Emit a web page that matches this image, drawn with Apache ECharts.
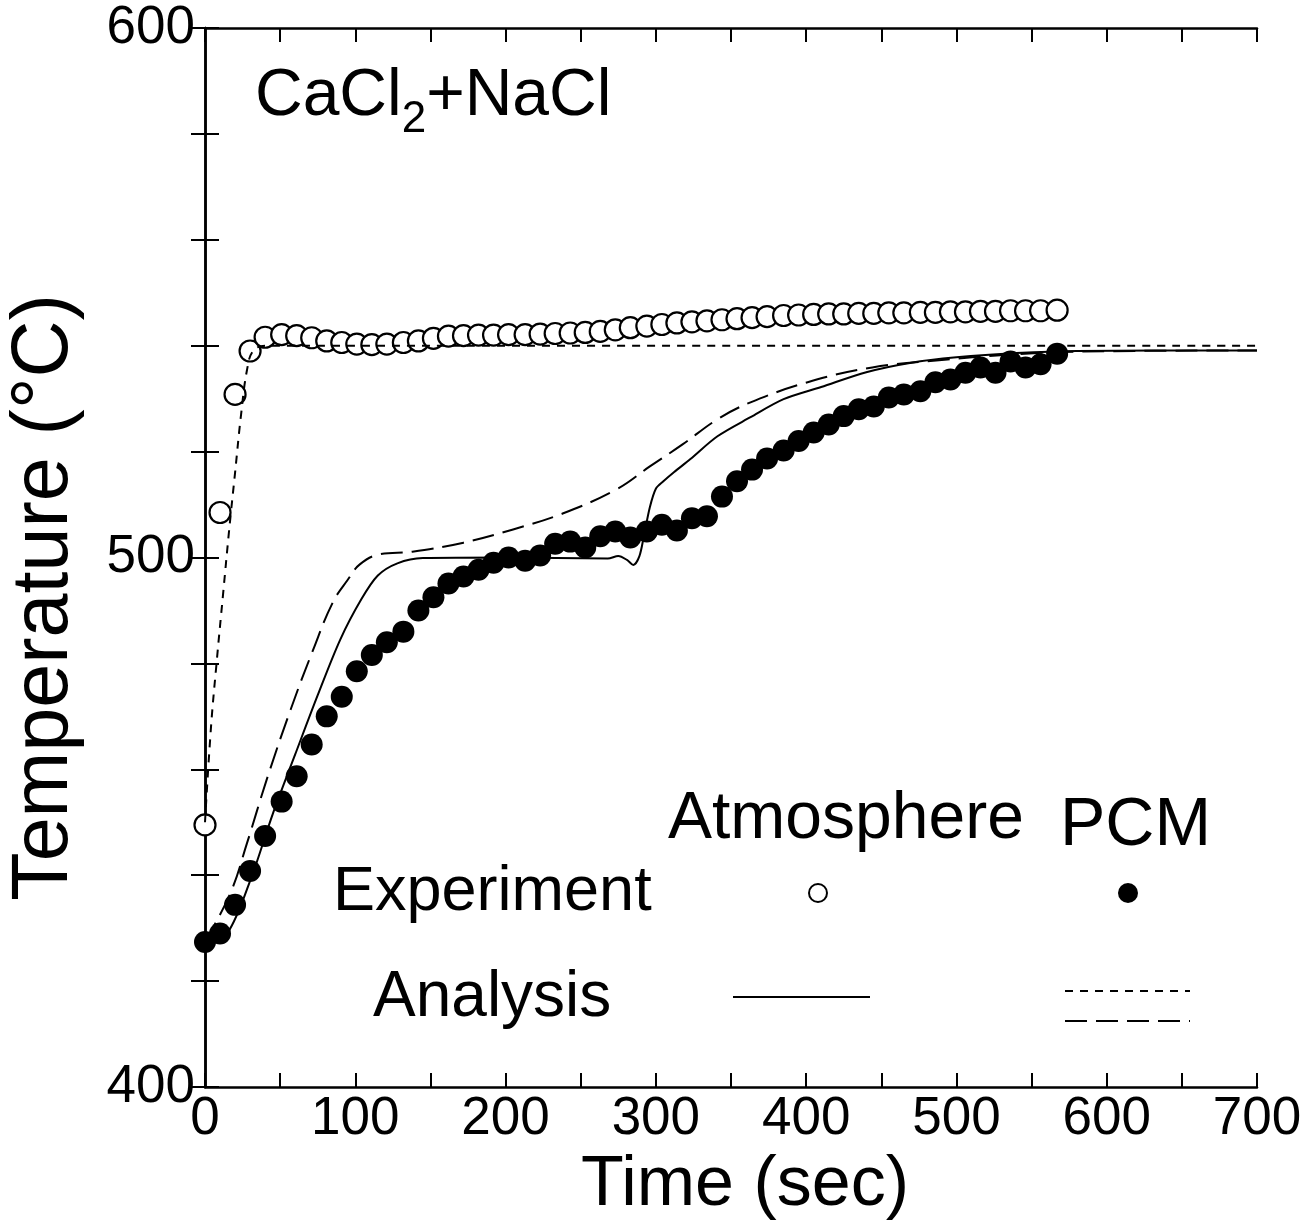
<!DOCTYPE html>
<html>
<head>
<meta charset="utf-8">
<script src="https://cdn.jsdelivr.net/npm/echarts@6/dist/echarts.min.js"></script>
<style>
html,body{margin:0;padding:0;background:#fff;}
#chart{width:1313px;height:1232px;}
</style>
</head>
<body>
<div id="chart"></div>
<script>
// ---- data ----
const expTime = [0,10,20,30,40,51,61,71,81,91,101,111,121,132,142,152,162,172,182,192,202,213,223,233,243,253,263,273,283,294,304,314,324,334,344,354,364,374,385,395,405,415,425,435,445,455,465,476,486,496,506,516,526,536,546,556,567];
const atmExp = [449.5,508.5,530.8,539.0,541.6,542.1,541.9,541.5,540.9,540.6,540.3,540.2,540.3,540.6,540.9,541.4,541.8,541.9,542.0,542.0,542.1,542.1,542.2,542.3,542.4,542.5,542.7,543.0,543.4,543.7,544.0,544.3,544.5,544.7,544.9,545.1,545.3,545.5,545.7,545.8,545.9,546.0,546.0,546.1,546.1,546.2,546.2,546.3,546.3,546.4,546.4,546.5,546.5,546.6,546.6,546.6,546.7];
const pcmExp = [427.4,429.0,434.4,440.8,447.4,453.9,458.7,464.7,470.0,473.7,478.5,481.6,484.0,486.0,490.0,492.5,495.1,496.4,497.7,499.0,500.0,499.4,500.4,502.6,503.0,501.9,504.0,504.9,503.8,504.9,506.2,505.1,507.4,507.8,511.5,514.4,516.6,518.7,520.2,522.0,523.6,525.1,526.7,528.0,528.5,530.2,530.8,531.4,533.1,533.6,534.9,535.9,534.9,537.0,535.9,536.5,538.5];

const atmAnaTime = [0,4,8,12,16,20,24,28,32,40,700];
const atmAna     = [450,468,481,493,505,516,527,535.5,539,540,540];

const pcmSolidTime = [0,15,31,45,60,75,90,104,115,128,145,200,268,275,281,285,289,292,296,300,305,312,323,341,363,385,410,440,470,500,540,580,700];
const pcmSolid     = [427,429.1,439.7,451.5,462.8,474,484.5,492.1,496.6,498.9,499.9,500,499.8,500.3,499.5,498.6,500.2,504,509.5,513,514.4,516.1,518.6,522.9,526.5,529.9,532.2,535,536.8,537.8,538.6,539,539.1];

const pcmDashTime = [0,17,28,41,57,72,85,95,103,116,138,172,205,238,274,296,318,341,363,401,444,494,540,584,700];
const pcmDash     = [427.4,436.7,446.1,458,471.3,482.6,491.5,495.8,498.7,500.6,501.1,502.8,505.3,508.3,512.9,517.2,521.4,526.1,529.3,533.1,535.9,537.4,538.4,538.9,539.1];

const xTicks = [0,100,200,300,400,500,600,700];
const yTicks = [400,500,600];

// ---- build chart ----
const FONT = '"Liberation Sans", Arial, Helvetica, sans-serif';
const pair = (t, v) => t.map((x, i) => [x, v[i]]);

const chart = echarts.init(document.getElementById('chart'), null, {renderer: 'canvas'});

const axisLineStyle = {color: '#000', width: 2.5};
const tickStyle = {show: true, inside: true, length: 14, lineStyle: {color: '#000', width: 2}};

chart.setOption({
  backgroundColor: '#fff',
  animation: false,
  grid: {left: 205, right: 56, top: 28, bottom: 145, containLabel: false, outerBoundsMode: 'none'},
  xAxis: [{
    type: 'value', position: 'bottom', min: 0, max: 700, interval: 50,
    axisLine: {show: true, lineStyle: axisLineStyle},
    axisTick: tickStyle,
    splitLine: {show: false},
    axisLabel: {
      color: '#000', fontFamily: FONT, fontSize: 53, margin: 6,
      formatter: v => xTicks.includes(v) ? String(v) : ''
    },
    name: 'Time (sec)', nameLocation: 'middle', nameGap: 62,
    nameTextStyle: {color: '#000', fontFamily: FONT, fontSize: 70, padding: [0, 0, 0, 28]}
  }, {
    type: 'value', position: 'top', min: 0, max: 700, interval: 50,
    axisLine: {show: true, lineStyle: axisLineStyle},
    axisTick: tickStyle, axisLabel: {show: false}, splitLine: {show: false}
  }],
  yAxis: [{
    type: 'value', position: 'left', min: 400, max: 600, interval: 20,
    axisLine: {show: true, lineStyle: axisLineStyle},
    axisTick: tickStyle,
    splitLine: {show: false},
    axisLabel: {
      color: '#000', fontFamily: FONT, fontSize: 53, margin: 10,
      formatter: v => yTicks.includes(v) ? String(v) : ''
    },
    name: 'Temperature (°C)', nameLocation: 'middle', nameGap: 120, nameRotate: 90,
    nameTextStyle: {color: '#000', fontFamily: FONT, fontSize: 79, padding: [0, 80, 0, 0]}
  }, {
    type: 'value', position: 'right', min: 400, max: 600, interval: 20,
    axisLine: {show: true, lineStyle: axisLineStyle},
    axisTick: tickStyle, axisLabel: {show: false}, splitLine: {show: false}
  }],
  series: [
    {
      name: 'Atmosphere experiment', type: 'scatter', data: pair(expTime, atmExp),
      symbol: 'circle', symbolSize: 21, z: 2,
      itemStyle: {color: '#fff', borderColor: '#000', borderWidth: 2.2, opacity: 1}
    },
    {
      name: 'PCM experiment', type: 'scatter', data: pair(expTime, pcmExp),
      symbol: 'circle', symbolSize: 22, z: 2,
      itemStyle: {color: '#000', opacity: 1}
    },
    {
      name: 'Atmosphere analysis', type: 'line', data: pair(atmAnaTime, atmAna),
      showSymbol: false, smooth: 0.4, z: 3,
      lineStyle: {color: '#000', width: 2, type: [8, 7]}
    },
    {
      name: 'PCM analysis (solid)', type: 'line', data: pair(pcmSolidTime, pcmSolid),
      showSymbol: false, smooth: 0.3, z: 3,
      lineStyle: {color: '#000', width: 2}
    },
    {
      name: 'PCM analysis (long dash)', type: 'line', data: pair(pcmDashTime, pcmDash),
      showSymbol: false, smooth: 0.4, z: 3,
      lineStyle: {color: '#000', width: 2, type: [22, 9]}
    }
  ],
  graphic: [
    {type: 'text', left: 255, top: 64, z: 10, style: {
      text: '{a|CaCl}{s|2}{a|+NaCl}', fill: '#000',
      rich: {
        a: {fontFamily: FONT, fontSize: 66, verticalAlign: 'bottom', padding: [0, 0, 12, 0], fill: '#000'},
        s: {fontFamily: FONT, fontSize: 44, verticalAlign: 'bottom', fill: '#000'}
      }
    }},
    {type: 'text', x: 668, y: 820, z: 10, style: {text: 'Atmosphere', fontFamily: FONT, fontSize: 66, fill: '#000', verticalAlign: 'middle'}},
    {type: 'text', x: 1060, y: 826, z: 10, style: {text: 'PCM', fontFamily: FONT, fontSize: 68, fill: '#000', verticalAlign: 'middle'}},
    {type: 'text', x: 333, y: 893, z: 10, style: {text: 'Experiment', fontFamily: FONT, fontSize: 63, fill: '#000', verticalAlign: 'middle'}},
    {type: 'text', x: 373, y: 998, z: 10, style: {text: 'Analysis', fontFamily: FONT, fontSize: 64, fill: '#000', verticalAlign: 'middle'}},
    {type: 'circle', shape: {cx: 818, cy: 893, r: 9}, z: 10, style: {fill: '#fff', stroke: '#000', lineWidth: 2}},
    {type: 'circle', shape: {cx: 1128, cy: 893, r: 10}, z: 10, style: {fill: '#000'}},
    {type: 'line', shape: {x1: 733, y1: 997, x2: 870, y2: 997}, z: 10, style: {stroke: '#000', lineWidth: 2}},
    {type: 'line', shape: {x1: 1065, y1: 991, x2: 1190, y2: 991}, z: 10, style: {stroke: '#000', lineWidth: 2, lineDash: [8, 7]}},
    {type: 'line', shape: {x1: 1065, y1: 1021, x2: 1190, y2: 1021}, z: 10, style: {stroke: '#000', lineWidth: 2, lineDash: [22, 9]}}
  ]
});
</script>
</body>
</html>
